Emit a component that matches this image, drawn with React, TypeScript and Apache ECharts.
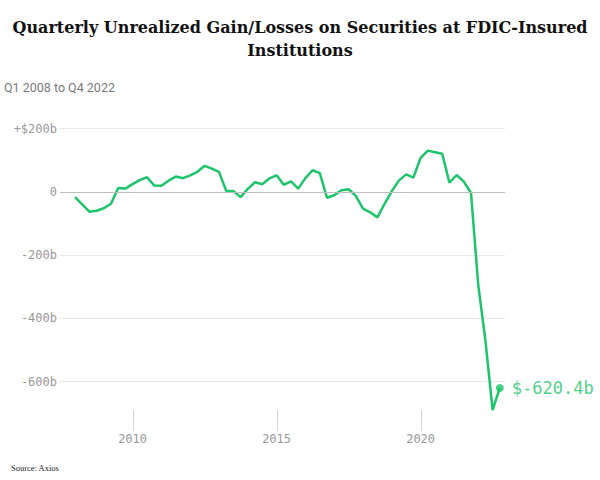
import React, { useEffect, useRef } from "react";
import * as echarts from "echarts";

// Q1 2008 .. Q4 2022, billions of dollars
const startYear = 2008;
const values: number[] = [
  -17, -40, -63, -60, -52, -38, 12, 10,
  24, 37, 46, 20, 19, 35, 48, 43,
  52, 63, 82, 73, 63, 3, 2, -17,
  9, 30, 24, 42, 52, 22, 33, 10,
  43, 68, 59, -19, -11, 5, 8, -13,
  -53, -65, -81, -38, 2, 36, 55, 45,
  107, 130, 125, 120, 29, 53, 32, -4,
  -294, -470, -690, -620.4,
];
const xTickYears = [2010, 2015, 2020];
const yTickValues = [200, 0, -200, -400, -600];

const green = "#1ec46b";
const mono = "DejaVu Sans Mono";
const yMin = -690;

export default function App() {
  const ref = useRef<HTMLDivElement>(null);
  useEffect(() => {
    if (!ref.current) return;
    const chart = echarts.init(ref.current, null, { renderer: "svg" });
    const points = values.map((v, i) => [startYear + i / 4, v]);
    const last = points[points.length - 1];
    chart.setOption({
      animation: false,
      title: [
        {
          text: "Quarterly Unrealized Gain/Losses on Securities at FDIC-Insured\nInstitutions",
          left: "center",
          top: 16,
          padding: 0,
          textStyle: {
            fontFamily: "DejaVu Serif",
            fontWeight: "bold",
            fontSize: 16,
            lineHeight: 23,
            color: "#111",
          },
        },
        {
          text: "Q1 2008 to Q4 2022",
          left: 4,
          top: 81,
          padding: 0,
          textStyle: {
            fontFamily: "Roboto",
            fontWeight: "normal",
            fontSize: 12.5,
            color: "#7a7a7a",
          },
        },
        {
          text: "Source: Axios",
          left: 11,
          top: 463,
          padding: 0,
          textStyle: {
            fontFamily: "Liberation Serif",
            fontWeight: "normal",
            fontSize: 8.5,
            color: "#222",
          },
        },
      ],
      grid: { left: 60, right: 95, top: 128.5, bottom: 70 },
      xAxis: {
        type: "value",
        min: 2007.48,
        max: 2022.93,
        axisLine: { show: false, onZero: false },
        splitLine: { show: false },
        axisTick: { show: false },
        axisLabel: {
          customValues: xTickYears,
          margin: 23,
          fontFamily: mono,
          fontSize: 12,
          color: "#999",
          formatter: (v: number) => String(v),
        },
      },
      yAxis: {
        type: "value",
        min: yMin,
        max: 200,
        axisLine: { show: false },
        axisTick: { show: false },
        splitLine: {
          show: true,
          showMinLine: false,
          lineStyle: { color: "#e8e8e8", width: 1 },
        },
        axisLabel: {
          showMinLabel: false,
          margin: 3,
          fontFamily: mono,
          fontSize: 12,
          color: "#999",
          formatter: (v: number) => {
            if (!yTickValues.includes(v)) return "";
            if (v > 0) return "+$" + v + "b";
            if (v === 0) return "0";
            return v + "b";
          },
        },
      },
      series: [
        {
          type: "line",
          data: points,
          showSymbol: false,
          lineStyle: { color: green, width: 2.5 },
          itemStyle: { color: green },
          markLine: {
            silent: true,
            symbol: ["none", "none"],
            label: { show: false },
            lineStyle: { color: "#bdbdbd", type: "solid", width: 1 },
            data: [{ yAxis: 0 }],
          },
          z: 3,
        },
        {
          type: "custom",
          silent: true,
          clip: false,
          data: xTickYears.map((yr) => [yr, yMin]),
          renderItem: (_params: any, api: any) => {
            const p = api.coord([api.value(0), api.value(1)]);
            const x = Math.round(p[0]) + 0.5;
            return {
              type: "line",
              shape: { x1: x, y1: p[1], x2: x, y2: p[1] + 21 },
              style: { stroke: "#d4d4d4", lineWidth: 1 },
            };
          },
          z: 1,
        },
        {
          type: "scatter",
          data: [last],
          symbol: "circle",
          symbolSize: 8,
          itemStyle: { color: green },
          label: {
            show: true,
            position: "right",
            distance: 8,
            fontFamily: mono,
            fontSize: 17,
            color: green,
            formatter: (p: any) => "$" + p.value[1] + "b",
          },
          z: 4,
        },
      ],
    });
    return () => chart.dispose();
  }, []);
  return (
    <div
      ref={ref}
      style={{ position: "absolute", left: 0, top: 0, width: 600, height: 480 }}
    />
  );
}
